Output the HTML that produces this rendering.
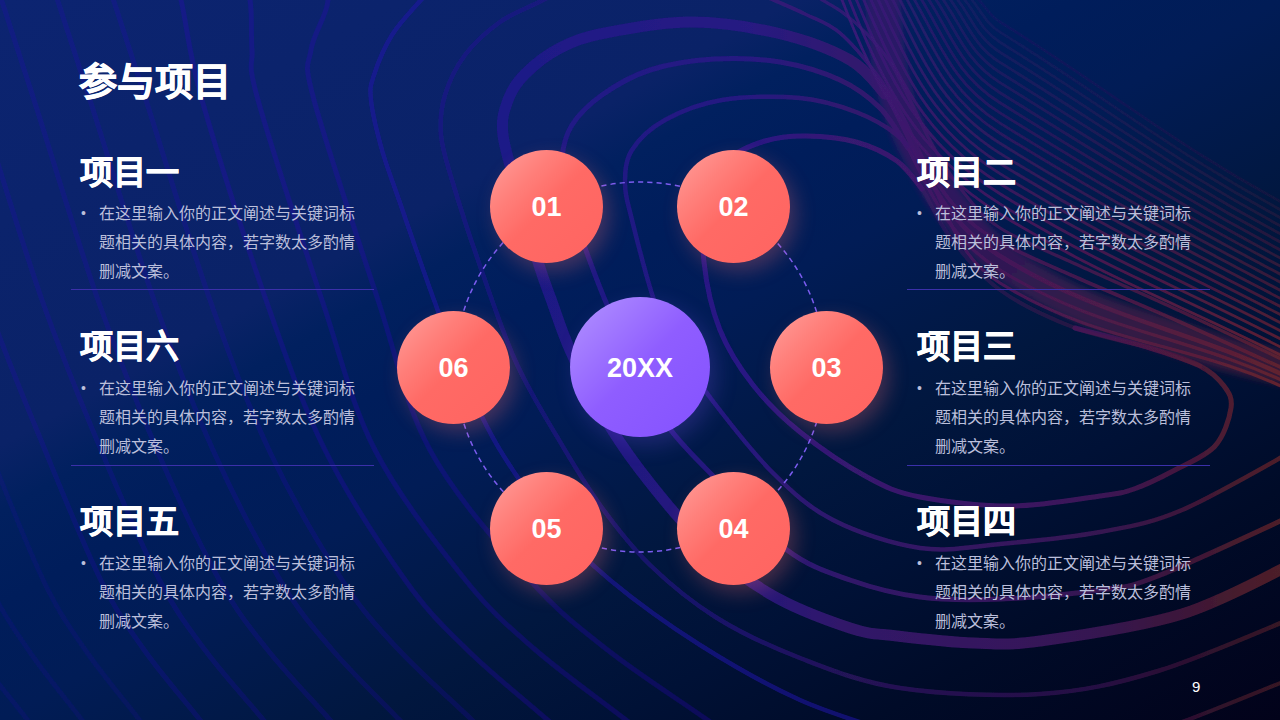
<!DOCTYPE html>
<html lang="zh-CN"><head><meta charset="utf-8">
<style>
*{margin:0;padding:0;box-sizing:border-box}
html,body{width:1280px;height:720px;overflow:hidden;background:#04113f}
body{position:relative;font-family:"Liberation Sans",sans-serif;color:#fff}
#bg{position:absolute;left:0;top:0;width:1280px;height:720px}
.t{position:absolute;white-space:nowrap}
.title{left:79px;top:59px;font-size:38px;font-weight:bold;line-height:46px;letter-spacing:0px;-webkit-text-stroke:0.8px #fff}
.h{font-size:33px;font-weight:bold;line-height:40px;-webkit-text-stroke:0.7px #fff}
.b{font-size:16px;line-height:29px;color:#bbbfdb}
.dot{font-size:14px;color:#bbbfdb}
.rule{position:absolute;height:1px;background:#3b30aa;width:303px}
.c{position:absolute;border-radius:50%;display:flex;align-items:center;justify-content:center;padding-top:2px;font-weight:bold;font-size:27px;color:#fff}
.r{width:113px;height:113px;background:linear-gradient(135deg,#ffa09d 0%,#ff807b 28%,#ff6a65 50%,#ff6461 100%);box-shadow:6px 8px 20px rgba(255,110,110,0.27)}
.p{width:140px;height:140px;left:570px;top:297px;background:linear-gradient(135deg,#b394ff 0%,#8f5dff 50%,#8452ff 100%);box-shadow:6px 8px 22px rgba(140,90,255,0.22)}
.pg{left:1192px;top:678px;font-size:15px;color:#fff}
</style></head><body>
<svg id="bg" width="1280" height="720" viewBox="0 0 1280 720">
<defs>
<linearGradient id="g0" x1="0" y1="0" x2="1" y2="1">
<stop offset="0" stop-color="#0c2471"/>
<stop offset="0.31" stop-color="#0a2267"/>
<stop offset="0.355" stop-color="#01205f"/>
<stop offset="0.42" stop-color="#001d5b"/>
<stop offset="0.5" stop-color="#011c56"/>
<stop offset="0.64" stop-color="#01173f"/>
<stop offset="0.74" stop-color="#001136"/>
<stop offset="0.84" stop-color="#000b28"/>
<stop offset="1" stop-color="#02021a"/>
</linearGradient>
<linearGradient id="gL" gradientUnits="userSpaceOnUse" x1="450" y1="0" x2="1300" y2="0">
<stop offset="0" stop-color="#1e168e"/><stop offset="0.353" stop-color="#2c1686"/><stop offset="0.47" stop-color="#3a1a72"/><stop offset="0.647" stop-color="#3e1666"/><stop offset="0.765" stop-color="#3e1658"/><stop offset="0.86" stop-color="#47163e"/><stop offset="0.93" stop-color="#54202e"/><stop offset="1" stop-color="#5e2428"/>
</linearGradient>
<linearGradient id="gF" gradientUnits="userSpaceOnUse" x1="860" y1="40" x2="1260" y2="400">
<stop offset="0" stop-color="#3a1a78"/><stop offset="0.4" stop-color="#44185e"/><stop offset="0.7" stop-color="#521a48"/><stop offset="1" stop-color="#66222e"/>
</linearGradient>
<filter id="soft" x="-5%" y="-5%" width="110%" height="110%"><feGaussianBlur stdDeviation="0.7"/></filter>
<filter id="blur3" x="-10%" y="-10%" width="120%" height="120%"><feGaussianBlur stdDeviation="3"/></filter>
<linearGradient id="gBand" gradientUnits="userSpaceOnUse" x1="880" y1="0" x2="1280" y2="380">
<stop offset="0" stop-color="#4a1a70"/><stop offset="0.4" stop-color="#561a62"/><stop offset="1" stop-color="#5e1e3a"/>
</linearGradient>
</defs>
<rect width="1280" height="720" fill="url(#g0)"/>
<g id="lines" filter="url(#soft)">
<g filter="url(#blur3)">
<path d="M882.0 -20.0 C882.7 -10.0 883.7 20.8 886.0 40.0 C888.3 59.2 891.2 77.5 896.0 95.0 C900.8 112.5 906.0 126.7 915.0 145.0 C924.0 163.3 935.0 185.5 950.0 205.0 C965.0 224.5 983.3 245.3 1005.0 262.0 C1026.7 278.7 1054.2 293.2 1080.0 305.0 C1105.8 316.8 1135.0 324.7 1160.0 333.0 C1185.0 341.3 1206.7 348.5 1230.0 355.0 C1253.3 361.5 1288.3 369.2 1300.0 372.0" stroke="url(#gBand)" stroke-width="34" stroke-opacity="0.55" fill="none" stroke-linecap="round" />
</g>
<path d="M-515.7 -40.0 C-513.5 -33.3 -510.1 -23.3 -502.5 0.0 C-494.9 23.3 -486.1 50.0 -470.0 100.0 C-453.9 150.0 -426.5 241.7 -406.0 300.0 C-385.5 358.3 -368.0 403.3 -347.0 450.0 C-326.0 496.7 -299.8 546.7 -279.9 580.0 C-260.0 613.3 -247.5 626.7 -227.6 650.0 C-207.7 673.3 -181.3 698.3 -160.5 720.0 C-139.7 741.7 -112.5 770.0 -103.0 780.0" stroke="#2a0cc8" stroke-width="5" stroke-opacity="0.13" fill="none" stroke-linecap="round" />
<path d="M-459.7 -40.0 C-457.5 -33.3 -454.1 -23.3 -446.5 0.0 C-438.9 23.3 -430.1 50.0 -414.0 100.0 C-397.9 150.0 -370.5 241.7 -350.0 300.0 C-329.5 358.3 -311.2 403.3 -291.0 450.0 C-270.8 496.7 -247.2 546.7 -228.7 580.0 C-210.3 613.3 -198.7 626.7 -180.3 650.0 C-161.8 673.3 -137.3 698.3 -118.0 720.0 C-98.7 741.7 -73.5 770.0 -64.6 780.0" stroke="#2a0cc8" stroke-width="5" stroke-opacity="0.13" fill="none" stroke-linecap="round" />
<path d="M-403.7 -40.0 C-401.5 -33.3 -398.1 -23.3 -390.5 0.0 C-382.9 23.3 -374.1 50.0 -358.0 100.0 C-341.9 150.0 -314.5 241.7 -294.0 300.0 C-273.5 358.3 -254.6 403.3 -235.0 450.0 C-215.4 496.7 -193.8 546.7 -176.5 580.0 C-159.2 613.3 -148.3 626.7 -131.0 650.0 C-113.7 673.3 -90.6 698.3 -72.5 720.0 C-54.4 741.7 -30.7 770.0 -22.4 780.0" stroke="#2a0cc8" stroke-width="5" stroke-opacity="0.13" fill="none" stroke-linecap="round" />
<path d="M-347.7 -40.0 C-345.5 -33.3 -342.1 -23.3 -334.5 0.0 C-326.9 23.3 -318.1 50.0 -302.0 100.0 C-285.9 150.0 -258.5 241.7 -238.0 300.0 C-217.5 358.3 -198.1 403.3 -179.0 450.0 C-159.9 496.7 -139.7 546.7 -123.2 580.0 C-106.7 613.3 -96.3 626.7 -79.8 650.0 C-63.3 673.3 -41.3 698.3 -24.0 720.0 C-6.7 741.7 15.9 770.0 23.8 780.0" stroke="#2a0cc8" stroke-width="5" stroke-opacity="0.13" fill="none" stroke-linecap="round" />
<path d="M-291.7 -40.0 C-289.5 -33.3 -286.1 -23.3 -278.5 0.0 C-270.9 23.3 -262.1 50.0 -246.0 100.0 C-229.9 150.0 -202.5 241.7 -182.0 300.0 C-161.5 358.3 -141.9 403.3 -123.0 450.0 C-104.1 496.7 -84.9 546.7 -68.8 580.0 C-52.8 613.3 -42.7 626.7 -26.7 650.0 C-10.6 673.3 10.7 698.3 27.5 720.0 C44.3 741.7 66.2 770.0 73.9 780.0" stroke="#2a0cc8" stroke-width="5" stroke-opacity="0.13" fill="none" stroke-linecap="round" />
<path d="M-235.7 -40.0 C-233.5 -33.3 -230.1 -23.3 -222.5 0.0 C-214.9 23.3 -206.1 50.0 -190.0 100.0 C-173.9 150.0 -146.5 241.7 -126.0 300.0 C-105.5 358.3 -85.8 403.3 -67.0 450.0 C-48.2 496.7 -29.3 546.7 -13.4 580.0 C2.5 613.3 12.5 626.7 28.4 650.0 C44.3 673.3 65.4 698.3 82.0 720.0 C98.6 741.7 120.3 770.0 128.0 780.0" stroke="#2a0cc8" stroke-width="5" stroke-opacity="0.13" fill="none" stroke-linecap="round" />
<path d="M-179.7 -40.0 C-177.5 -33.3 -174.1 -23.3 -166.5 0.0 C-158.9 23.3 -150.1 50.0 -134.0 100.0 C-117.9 150.0 -90.5 241.7 -70.0 300.0 C-49.5 358.3 -29.9 403.3 -11.0 450.0 C7.9 496.7 27.1 546.7 43.2 580.0 C59.2 613.3 69.3 626.7 85.3 650.0 C101.4 673.3 122.7 698.3 139.5 720.0 C156.3 741.7 178.2 770.0 185.9 780.0" stroke="#2a0cc8" stroke-width="5" stroke-opacity="0.13" fill="none" stroke-linecap="round" />
<path d="M-123.7 -40.0 C-121.5 -33.3 -118.1 -23.3 -110.5 0.0 C-102.9 23.3 -94.1 50.0 -78.0 100.0 C-61.9 150.0 -34.5 241.7 -14.0 300.0 C6.5 358.3 25.9 403.3 45.0 450.0 C64.1 496.7 84.3 546.7 100.8 580.0 C117.3 613.3 127.7 626.7 144.2 650.0 C160.7 673.3 182.7 698.3 200.0 720.0 C217.3 741.7 239.9 770.0 247.8 780.0" stroke="#2a0cc8" stroke-width="5" stroke-opacity="0.2" fill="none" stroke-linecap="round" />
<path d="M-67.7 -40.0 C-65.5 -33.3 -62.1 -23.3 -54.5 0.0 C-46.9 23.3 -38.1 50.0 -22.0 100.0 C-5.9 150.0 21.5 241.7 42.0 300.0 C62.5 358.3 81.4 403.3 101.0 450.0 C120.6 496.7 142.2 546.7 159.5 580.0 C176.8 613.3 187.7 626.7 205.0 650.0 C222.3 673.3 245.4 698.3 263.5 720.0 C281.6 741.7 305.3 770.0 313.6 780.0" stroke="#2a0cc8" stroke-width="5" stroke-opacity="0.2" fill="none" stroke-linecap="round" />
<path d="M-11.7 -40.0 C-9.5 -33.3 -6.1 -23.3 1.5 0.0 C9.1 23.3 17.9 50.0 34.0 100.0 C50.1 150.0 77.5 241.7 98.0 300.0 C118.5 358.3 136.8 403.3 157.0 450.0 C177.2 496.7 200.8 546.7 219.3 580.0 C237.7 613.3 249.3 626.7 267.7 650.0 C286.2 673.3 310.7 698.3 330.0 720.0 C349.3 741.7 374.5 770.0 383.4 780.0" stroke="#2a0cc8" stroke-width="5" stroke-opacity="0.2" fill="none" stroke-linecap="round" />
<path d="M44.3 -40.0 C46.5 -33.3 49.9 -23.3 57.5 0.0 C65.1 23.3 73.9 50.0 90.0 100.0 C106.1 150.0 133.5 241.7 154.0 300.0 C174.5 358.3 192.0 403.3 213.0 450.0 C234.0 496.7 260.2 546.7 280.1 580.0 C300.0 613.3 312.5 626.7 332.4 650.0 C352.3 673.3 378.7 698.3 399.5 720.0 C420.3 741.7 447.5 770.0 457.0 780.0" stroke="#2a0cc8" stroke-width="5" stroke-opacity="0.2" fill="none" stroke-linecap="round" />
<path d="M100.3 -40.0 C102.5 -33.3 105.9 -23.3 113.5 0.0 C121.1 23.3 129.9 50.0 146.0 100.0 C162.1 150.0 189.5 241.7 210.0 300.0 C230.5 358.3 247.0 403.3 269.0 450.0 C291.0 496.7 320.4 546.7 342.1 580.0 C363.7 613.3 377.3 626.7 398.9 650.0 C420.6 673.3 449.4 698.3 472.0 720.0 C494.6 741.7 524.2 770.0 534.6 780.0" stroke="#2a0cc8" stroke-width="5" stroke-opacity="0.2" fill="none" stroke-linecap="round" />
<path d="M167.8 -40.0 C170.0 -33.3 175.3 -23.3 181.0 0.0 C186.7 23.3 187.8 50.0 202.0 100.0 C216.2 150.0 245.5 241.7 266.0 300.0 C286.5 358.3 301.8 403.3 325.0 450.0 C348.2 496.7 381.4 546.7 405.1 580.0 C428.8 613.3 443.7 626.7 467.4 650.0 C491.1 673.3 522.7 698.3 547.5 720.0 C572.3 741.7 604.7 770.0 616.2 780.0" stroke="#2a0cc8" stroke-width="5" stroke-opacity="0.26" fill="none" stroke-linecap="round" />
<path d="M236.8 -40.0 C239.0 -33.3 247.5 -15.0 250.0 0.0 C252.5 15.0 250.7 33.3 252.0 50.0 C253.3 66.7 246.3 58.3 258.0 100.0 C269.7 141.7 302.5 241.7 322.0 300.0 C341.5 358.3 351.1 403.3 375.0 450.0 C398.9 496.7 438.6 546.7 465.4 580.0 C492.1 613.3 508.9 626.7 535.6 650.0 C562.4 673.3 598.0 698.3 626.0 720.0 C654.0 741.7 690.5 770.0 703.5 780.0" stroke="#2a0cc8" stroke-width="5" stroke-opacity="0.26" fill="none" stroke-linecap="round" />
<path d="M314.8 -40.0 C317.0 -33.3 328.6 -15.0 328.0 0.0 C327.4 15.0 313.3 33.3 311.0 50.0 C308.7 66.7 302.8 58.3 314.0 100.0 C325.2 141.7 358.7 241.7 378.0 300.0 C397.3 358.3 404.7 403.3 430.0 450.0 C455.3 496.7 500.3 546.7 529.9 580.0 C559.5 613.3 578.0 626.7 607.6 650.0 C637.2 673.3 676.6 698.3 707.5 720.0 C738.4 741.7 778.9 770.0 793.1 780.0" stroke="#2a0cc8" stroke-width="5" stroke-opacity="0.26" fill="none" stroke-linecap="round" />
<path d="M445.0 -25.0 C441.0 -20.8 429.8 -10.0 421.0 0.0 C412.2 10.0 399.8 22.5 392.0 35.0 C384.2 47.5 377.5 64.2 374.0 75.0 C370.5 85.8 369.7 87.5 371.0 100.0 C372.3 112.5 377.3 133.3 382.0 150.0 C386.7 166.7 390.3 175.0 399.0 200.0 C407.7 225.0 423.0 270.0 434.0 300.0 C445.0 330.0 454.0 355.0 465.0 380.0 C476.0 405.0 485.8 426.7 500.0 450.0 C514.2 473.3 531.7 498.3 550.0 520.0 C568.3 541.7 585.0 559.2 610.0 580.0 C635.0 600.8 668.3 625.0 700.0 645.0 C731.7 665.0 766.7 685.0 800.0 700.0 C833.3 715.0 883.3 729.2 900.0 735.0" stroke="#2014a8" stroke-width="4.5" stroke-opacity="0.55" fill="none" stroke-linecap="round" />
<path d="M1100.0 748.0 C1113.7 743.7 1148.7 734.2 1182.0 722.0 C1215.3 709.8 1280.3 682.8 1300.0 675.0" stroke="url(#gL)" stroke-width="4" stroke-opacity="0.6" fill="none" stroke-linecap="round" />
<path d="M600.0 -30.0 C590.5 -25.0 559.7 -8.7 543.0 0.0 C526.3 8.7 513.0 12.8 500.0 22.0 C487.0 31.2 474.2 42.8 465.0 55.0 C455.8 67.2 449.0 81.7 445.0 95.0 C441.0 108.3 439.8 120.8 441.0 135.0 C442.2 149.2 445.8 159.2 452.0 180.0 C458.2 200.8 467.5 230.0 478.0 260.0 C488.5 290.0 502.0 330.8 515.0 360.0 C528.0 389.2 541.8 410.8 556.0 435.0 C570.2 459.2 584.3 483.3 600.0 505.0 C615.7 526.7 630.5 546.2 650.0 565.0 C669.5 583.8 692.0 602.5 717.0 618.0 C742.0 633.5 769.5 646.3 800.0 658.0 C830.5 669.7 860.0 682.0 900.0 688.0 C940.0 694.0 997.0 696.8 1040.0 694.0 C1083.0 691.2 1114.7 684.2 1158.0 671.0 C1201.3 657.8 1276.3 624.3 1300.0 615.0" stroke="url(#gL)" stroke-width="4.5" stroke-opacity="0.6" fill="none" stroke-linecap="round" />
<path d="M1300.0 560.0 C1280.3 569.0 1225.3 600.5 1182.0 614.0 C1138.7 627.5 1074.7 636.2 1040.0 641.0 C1005.3 645.8 997.8 643.8 974.0 643.0 C950.2 642.2 917.7 638.5 897.0 636.0 C876.3 633.5 871.2 635.0 850.0 628.0 C828.8 621.0 795.0 608.7 770.0 594.0 C745.0 579.3 721.7 560.7 700.0 540.0 C678.3 519.3 656.7 491.7 640.0 470.0 C623.3 448.3 611.7 430.0 600.0 410.0 C588.3 390.0 578.2 368.5 570.0 350.0 C561.8 331.5 556.2 313.2 551.0 299.0 C545.8 284.8 544.2 281.5 539.0 265.0 C533.8 248.5 526.0 221.7 520.0 200.0 C514.0 178.3 505.0 151.7 503.0 135.0 C501.0 118.3 504.3 110.2 508.0 100.0 C511.7 89.8 516.3 82.7 525.0 74.0 C533.7 65.3 546.7 54.8 560.0 48.0 C573.3 41.2 583.3 37.3 605.0 33.0 C626.7 28.7 661.3 22.0 690.0 22.0 C718.7 22.0 750.3 26.7 777.0 33.0 C803.7 39.3 832.0 49.8 850.0 60.0 C868.0 70.2 879.2 88.3 885.0 94.0" stroke="url(#gL)" stroke-width="11" stroke-opacity="0.85" fill="none" stroke-linecap="round" />
<path d="M1300.0 512.0 C1276.3 522.7 1191.3 563.0 1158.0 576.0 C1124.7 589.0 1126.3 586.2 1100.0 590.0 C1073.7 593.8 1030.0 597.8 1000.0 599.0 C970.0 600.2 945.0 600.2 920.0 597.0 C895.0 593.8 872.2 587.8 850.0 580.0 C827.8 572.2 809.2 566.7 787.0 550.0 C764.8 533.3 737.0 500.8 717.0 480.0 C697.0 459.2 681.2 445.0 667.0 425.0 C652.8 405.0 642.3 380.8 632.0 360.0 C621.7 339.2 613.0 319.2 605.0 300.0 C597.0 280.8 590.5 263.0 584.0 245.0 C577.5 227.0 569.7 206.5 566.0 192.0 C562.3 177.5 561.0 169.2 562.0 158.0 C563.0 146.8 565.3 135.5 572.0 125.0 C578.7 114.5 589.0 104.2 602.0 95.0 C615.0 85.8 631.3 76.0 650.0 70.0 C668.7 64.0 692.3 60.3 714.0 59.0 C735.7 57.7 759.0 58.5 780.0 62.0 C801.0 65.5 823.3 72.3 840.0 80.0 C856.7 87.7 868.7 96.7 880.0 108.0 C891.3 119.3 903.3 141.3 908.0 148.0" stroke="url(#gL)" stroke-width="5" stroke-opacity="0.85" fill="none" stroke-linecap="round" />
<path d="M1300.0 447.0 C1280.3 457.5 1215.3 495.8 1182.0 510.0 C1148.7 524.2 1130.3 526.3 1100.0 532.0 C1069.7 537.7 1030.0 541.3 1000.0 544.0 C970.0 546.7 947.8 552.0 920.0 548.0 C892.2 544.0 857.5 532.5 833.0 520.0 C808.5 507.5 793.2 493.0 773.0 473.0 C752.8 453.0 728.3 421.3 712.0 400.0 C695.7 378.7 684.7 361.7 675.0 345.0 C665.3 328.3 661.2 320.8 654.0 300.0 C646.8 279.2 636.8 239.3 632.0 220.0 C627.2 200.7 625.0 195.7 625.0 184.0 C625.0 172.3 625.3 160.7 632.0 150.0 C638.7 139.3 650.0 128.3 665.0 120.0 C680.0 111.7 699.5 103.7 722.0 100.0 C744.5 96.3 777.7 96.0 800.0 98.0 C822.3 100.0 839.8 105.8 856.0 112.0 C872.2 118.2 885.5 125.7 897.0 135.0 C908.5 144.3 920.3 162.5 925.0 168.0" stroke="url(#gL)" stroke-width="4.5" stroke-opacity="0.85" fill="none" stroke-linecap="round" />
<path d="M1075.0 328.0 C1087.5 331.3 1129.2 341.7 1150.0 348.0 C1170.8 354.3 1187.7 359.7 1200.0 366.0 C1212.3 372.3 1218.8 379.0 1224.0 386.0 C1229.2 393.0 1232.5 398.0 1231.0 408.0 C1229.5 418.0 1224.3 435.7 1215.0 446.0 C1205.7 456.3 1188.5 462.8 1175.0 470.0 C1161.5 477.2 1146.5 484.7 1134.0 489.0 C1121.5 493.3 1120.2 493.2 1100.0 496.0 C1079.8 498.8 1043.0 505.8 1013.0 506.0 C983.0 506.2 944.3 501.8 920.0 497.0 C895.7 492.2 887.0 487.8 867.0 477.0 C847.0 466.2 819.0 447.3 800.0 432.0 C781.0 416.7 766.3 402.0 753.0 385.0 C739.7 368.0 728.2 350.5 720.0 330.0 C711.8 309.5 706.3 283.7 704.0 262.0 C701.7 240.3 702.0 217.0 706.0 200.0 C710.0 183.0 718.2 169.8 728.0 160.0 C737.8 150.2 752.0 145.0 765.0 141.0 C778.0 137.0 790.8 135.8 806.0 136.0 C821.2 136.2 840.8 137.8 856.0 142.0 C871.2 146.2 886.0 153.2 897.0 161.0 C908.0 168.8 917.8 184.3 922.0 189.0" stroke="url(#gL)" stroke-width="5" stroke-opacity="0.95" fill="none" stroke-linecap="round" />
<path d="M897.0 161.0 C901.2 165.7 913.2 176.3 922.0 189.0 C930.8 201.7 937.0 220.2 950.0 237.0 C963.0 253.8 979.2 274.8 1000.0 290.0 C1020.8 305.2 1050.0 318.3 1075.0 328.0 C1100.0 337.7 1129.2 341.7 1150.0 348.0 C1170.8 354.3 1191.7 363.0 1200.0 366.0" stroke="url(#gF)" stroke-width="4" stroke-opacity="0.45" fill="none" stroke-linecap="round" />
<path d="M925.0 168.0 C949.3 214.2 955.7 255.5 1000.0 283.0 C1103.4 347.1 1191.2 340.6 1300.0 395.0" fill="none" stroke="url(#gF)" stroke-width="3.2" stroke-opacity="0.95"/>
<path d="M908.0 148.0 C934.0 199.9 950.7 239.4 1000.0 270.0 C1104.2 334.6 1190.3 334.2 1300.0 389.0" fill="none" stroke="url(#gF)" stroke-width="3.2" stroke-opacity="0.90"/>
<path d="M885.0 92.0 C922.0 158.5 935.3 215.9 1000.0 256.0 C1105.2 321.2 1189.3 327.6 1300.0 383.0" fill="none" stroke="url(#gF)" stroke-width="4.5" stroke-opacity="0.90"/>
<path d="M730.0 -20.0 C736.2 -17.2 754.5 -8.7 767.0 -3.0 C779.5 2.7 792.8 8.0 805.0 14.0 C817.2 20.0 828.0 22.8 840.0 33.0 C852.0 43.2 866.7 61.3 877.0 75.0 C887.3 88.7 893.5 99.5 902.0 115.0 C910.5 130.5 918.3 151.8 928.0 168.0 C937.7 184.2 948.0 199.7 960.0 212.0 C972.0 224.3 980.0 230.8 1000.0 242.0 C1020.0 253.2 1050.0 265.7 1080.0 279.0 C1110.0 292.3 1143.3 305.8 1180.0 322.0 C1216.7 338.2 1280.0 367.0 1300.0 376.0" stroke="url(#gF)" stroke-width="3.6" stroke-opacity="0.85" fill="none" stroke-linecap="round" />
<path d="M790.0 -20.0 C794.5 -17.2 808.3 -8.3 817.0 -3.0 C825.7 2.3 834.0 6.2 842.0 12.0 C850.0 17.8 857.0 23.7 865.0 32.0 C873.0 40.3 882.5 50.7 890.0 62.0 C897.5 73.3 902.7 85.7 910.0 100.0 C917.3 114.3 925.0 132.5 934.0 148.0 C943.0 163.5 953.0 179.7 964.0 193.0 C975.0 206.3 980.7 215.8 1000.0 228.0 C1019.3 240.2 1050.0 252.2 1080.0 266.0 C1110.0 279.8 1143.3 294.0 1180.0 311.0 C1216.7 328.0 1280.0 358.5 1300.0 368.0" stroke="url(#gF)" stroke-width="3.2" stroke-opacity="0.8" fill="none" stroke-linecap="round" />
<path d="M839.7 -6.0 C876.8 90.5 912.1 159.5 1000.0 214.0 C1108.5 281.3 1186.8 306.1 1300.0 365.0" fill="none" stroke="url(#gF)" stroke-width="2.8" stroke-opacity="0.95"/>
<path d="M846.9 -6.0 C883.4 85.7 916.1 151.9 1000.0 203.9 C1108.8 271.3 1186.5 297.9 1300.0 356.9" fill="none" stroke="url(#gF)" stroke-width="2.8" stroke-opacity="0.91"/>
<path d="M854.0 -6.0 C889.9 80.9 920.1 144.2 1000.0 193.8 C1109.1 261.4 1186.1 289.7 1300.0 348.9" fill="none" stroke="url(#gF)" stroke-width="2.8" stroke-opacity="0.87"/>
<path d="M861.2 -6.0 C896.4 76.1 924.1 136.6 1000.0 183.7 C1109.4 251.5 1185.8 281.5 1300.0 340.8" fill="none" stroke="url(#gF)" stroke-width="2.8" stroke-opacity="0.83"/>
<path d="M868.4 -6.0 C902.8 71.3 928.1 129.0 1000.0 173.6 C1109.7 241.6 1185.5 273.2 1300.0 332.8" fill="none" stroke="url(#gF)" stroke-width="2.8" stroke-opacity="0.79"/>
<path d="M875.5 -6.0 C909.2 66.5 932.1 121.4 1000.0 163.5 C1110.0 231.7 1185.2 265.0 1300.0 324.7" fill="none" stroke="url(#gF)" stroke-width="2.8" stroke-opacity="0.75"/>
<path d="M882.7 -6.0 C915.5 61.7 936.1 113.7 1000.0 153.4 C1110.3 221.8 1184.8 256.8 1300.0 316.7" fill="none" stroke="url(#gF)" stroke-width="2.8" stroke-opacity="0.71"/>
<path d="M889.8 -6.0 C921.7 56.9 940.1 106.1 1000.0 143.3 C1110.6 211.9 1184.5 248.6 1300.0 308.6" fill="none" stroke="url(#gF)" stroke-width="2.8" stroke-opacity="0.67"/>
<path d="M896.9 -6.0 C927.8 52.1 944.1 98.5 1000.0 133.2 C1111.0 202.0 1184.2 240.3 1300.0 300.6" fill="none" stroke="url(#gF)" stroke-width="2.8" stroke-opacity="0.63"/>
<path d="M904.0 -6.0 C933.8 47.4 948.1 90.8 1000.0 123.1 C1111.3 192.0 1183.8 232.1 1300.0 292.5" fill="none" stroke="url(#gF)" stroke-width="2.8" stroke-opacity="0.59"/>
<path d="M911.1 -6.0 C939.7 42.7 952.0 83.2 1000.0 112.9 C1111.6 182.1 1183.5 223.9 1300.0 284.5" fill="none" stroke="url(#gF)" stroke-width="2.8" stroke-opacity="0.56"/>
<path d="M918.2 -6.0 C945.4 38.0 956.0 75.6 1000.0 102.8 C1111.9 172.2 1183.1 215.7 1300.0 276.4" fill="none" stroke="url(#gF)" stroke-width="2.8" stroke-opacity="0.52"/>
<path d="M925.2 -6.0 C951.0 33.4 960.0 67.9 1000.0 92.7 C1112.3 162.3 1182.8 207.4 1300.0 268.4" fill="none" stroke="url(#gF)" stroke-width="2.8" stroke-opacity="0.48"/>
<path d="M932.2 -6.0 C956.5 28.8 964.0 60.3 1000.0 82.6 C1112.6 152.4 1182.4 199.2 1300.0 260.3" fill="none" stroke="url(#gF)" stroke-width="2.8" stroke-opacity="0.44"/>
<path d="M939.2 -6.0 C961.7 24.3 967.9 52.6 1000.0 72.5 C1112.9 142.6 1182.1 191.0 1300.0 252.3" fill="none" stroke="url(#gF)" stroke-width="2.8" stroke-opacity="0.40"/>
<path d="M946.2 -6.0 C966.8 19.9 971.9 45.0 1000.0 62.4 C1113.3 132.7 1181.7 182.7 1300.0 244.2" fill="none" stroke="url(#gF)" stroke-width="2.8" stroke-opacity="0.36"/>
<path d="M953.1 -6.0 C971.6 15.6 975.8 37.3 1000.0 52.3 C1113.6 122.8 1181.4 174.5 1300.0 236.2" fill="none" stroke="url(#gF)" stroke-width="2.8" stroke-opacity="0.32"/>
<path d="M959.9 -6.0 C976.1 11.5 979.8 29.7 1000.0 42.2 C1114.0 112.9 1181.0 166.2 1300.0 228.1" fill="none" stroke="url(#gF)" stroke-width="2.8" stroke-opacity="0.28"/>
<path d="M966.7 -6.0 C980.3 7.5 983.7 22.0 1000.0 32.1 C1114.3 103.0 1180.6 158.0 1300.0 220.1" fill="none" stroke="url(#gF)" stroke-width="2.8" stroke-opacity="0.24"/>
<path d="M973.3 -6.0 C984.3 3.8 987.5 14.3 1000.0 22.0 C1114.7 93.1 1180.3 149.7 1300.0 212.0" fill="none" stroke="url(#gF)" stroke-width="2.8" stroke-opacity="0.20"/>
</g>
<circle cx="640" cy="367" r="185" fill="none" stroke="#7b5cf0" stroke-width="1.5" stroke-dasharray="5.2 4.05"/>

</svg>

<div class="t title">参与项目</div>

<div class="t h" style="left:80px;top:153px">项目一</div>
<div class="t dot" style="left:81px;top:205px">•</div>
<div class="t b" style="left:99px;top:199px">在这里输入你的正文阐述与关键词标<br>题相关的具体内容，若字数太多酌情<br>删减文案。</div>
<div class="rule" style="left:71px;top:289px"></div>

<div class="t h" style="left:80px;top:327px">项目六</div>
<div class="t dot" style="left:81px;top:380px">•</div>
<div class="t b" style="left:99px;top:374px">在这里输入你的正文阐述与关键词标<br>题相关的具体内容，若字数太多酌情<br>删减文案。</div>
<div class="rule" style="left:71px;top:465px"></div>

<div class="t h" style="left:80px;top:502px">项目五</div>
<div class="t dot" style="left:81px;top:555px">•</div>
<div class="t b" style="left:99px;top:549px">在这里输入你的正文阐述与关键词标<br>题相关的具体内容，若字数太多酌情<br>删减文案。</div>

<div class="t h" style="left:917px;top:153px">项目二</div>
<div class="t dot" style="left:917px;top:205px">•</div>
<div class="t b" style="left:935px;top:199px">在这里输入你的正文阐述与关键词标<br>题相关的具体内容，若字数太多酌情<br>删减文案。</div>
<div class="rule" style="left:907px;top:289px"></div>

<div class="t h" style="left:917px;top:327px">项目三</div>
<div class="t dot" style="left:917px;top:380px">•</div>
<div class="t b" style="left:935px;top:374px">在这里输入你的正文阐述与关键词标<br>题相关的具体内容，若字数太多酌情<br>删减文案。</div>
<div class="rule" style="left:907px;top:465px"></div>

<div class="t h" style="left:917px;top:502px">项目四</div>
<div class="t dot" style="left:917px;top:555px">•</div>
<div class="t b" style="left:935px;top:549px">在这里输入你的正文阐述与关键词标<br>题相关的具体内容，若字数太多酌情<br>删减文案。</div>

<div class="c r" style="left:490px;top:150px">01</div>
<div class="c r" style="left:677px;top:150px">02</div>
<div class="c r" style="left:770px;top:311px">03</div>
<div class="c r" style="left:677px;top:472px">04</div>
<div class="c r" style="left:490px;top:472px">05</div>
<div class="c r" style="left:397px;top:311px">06</div>
<div class="c p">20XX</div>

<div class="t pg">9</div>
</body></html>
